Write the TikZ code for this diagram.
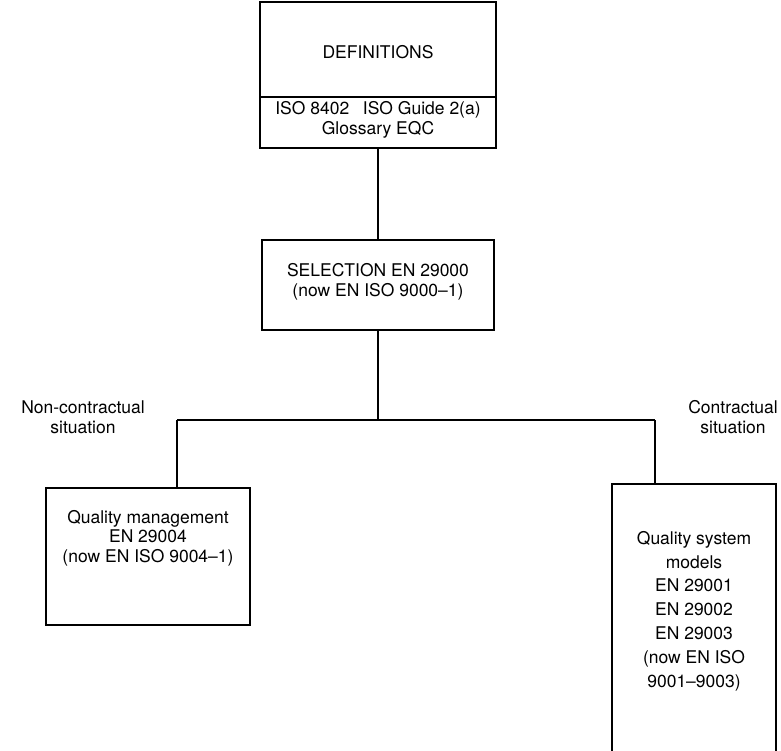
\documentclass[tikz,border=0pt]{standalone}
\usepackage{fontspec}
\setmainfont{TeX Gyre Heros}
\begin{document}
\begin{tikzpicture}[x=1pt,y=-1pt,
  box/.style={draw, line width=1.5pt, inner sep=0pt},
  txt/.style={align=center, inner sep=0pt, font=\fontsize{17.5}{19.5}\selectfont},
  link/.style={line width=1.5pt}]
\clip (0,0) rectangle (781,750);
\useasboundingbox (0,0) rectangle (781,750);

% definitions block: heading cell and reference cell
\node[box, minimum width=236, minimum height=95] (defs) at (378,49.5) {};
\node[txt] (defst) at (378,52) {DEFINITIONS};
\node[box, minimum width=236, minimum height=51] (refs) at (378,122.5) {};
\node[txt] (refst) at (378,120) {ISO 8402\enspace\ ISO Guide 2(a)\\Glossary EQC};

% selection standard
\node[box, minimum width=232, minimum height=90] (sel) at (378,285) {};
\node[txt] (selt) at (378,282) {SELECTION EN 29000\\(now EN ISO 9000--1)};

% branch points
\coordinate (fork) at (378,420);
\coordinate (forkL) at (177,420);
\coordinate (forkR) at (655,420);

% the two applications
\node[box, minimum width=204, minimum height=137] (qm) at (148,556.5) {};
\node[txt] (qmt) at (148,538) {Quality management\\EN 29004\\(now EN ISO 9004--1)};
\node[box, minimum width=164, minimum height=290] (qs) at (694,629) {};
\node[txt, font=\fontsize{17.5}{23.8}\selectfont] (qst) at (694,611) {Quality system\\models\\EN 29001\\EN 29002\\EN 29003\\(now EN ISO\\9001--9003)};

% branch labels
\node[txt] (ncl) at (83,417) {Non-contractual\\situation};
\node[txt] (cl) at (733,417) {Contractual\\situation};

% connectors
\draw[link] (refs.south) -- (sel.north);
\draw[link] (sel.south) -- (fork);
\draw[link] (forkL) -- (forkR);
\draw[link] (forkL) -- (forkL |- qm.north);
\draw[link] (forkR) -- (forkR |- qs.north);
\end{tikzpicture}
\end{document}
